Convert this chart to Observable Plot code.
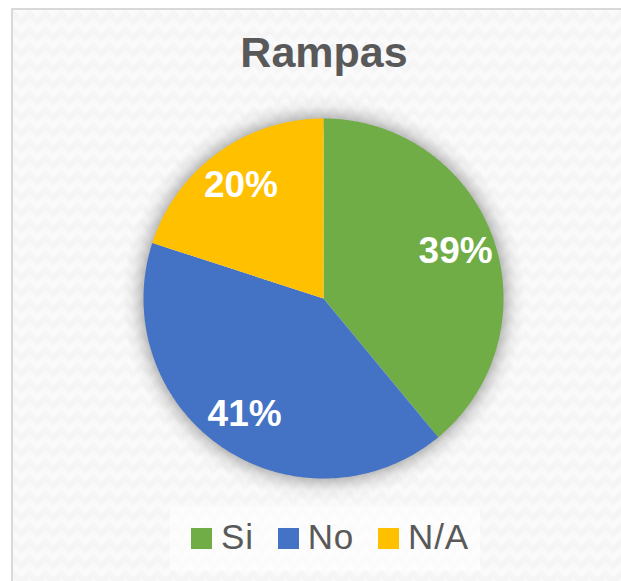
<!DOCTYPE html>
<html>
<head>
<meta charset="utf-8">
<script src="https://cdn.jsdelivr.net/npm/d3@7"></script>
<script src="https://cdn.jsdelivr.net/npm/@observablehq/plot@0.6"></script>
<style>
  html, body { margin: 0; padding: 0; width: 621px; height: 581px; overflow: hidden; background: #ffffff; font-family: "Liberation Sans", Arial, sans-serif; }
  #frame {
    position: absolute; left: 11px; top: 8px; width: 700px; height: 700px;
    border: 2px solid #d9d9d9; box-sizing: border-box;
    background-color: #f5f5f5;
    background-image:
      linear-gradient(135deg, #fafafa 25%, transparent 25%),
      linear-gradient(225deg, #fafafa 25%, transparent 25%),
      linear-gradient(315deg, #fafafa 25%, transparent 25%),
      linear-gradient(45deg, #fafafa 25%, transparent 25%);
    background-position: -8px 0, -8px 0, 0 0, 0 0;
    background-size: 16px 16px;
  }
  #title {
    position: absolute; left: 0; top: 31px; width: 648px; text-align: center;
    font-size: 43px; line-height: 43px; font-weight: bold; color: #595959;
  }
  #chart { position: absolute; left: 122.5px; top: 97.5px; }
  #legendbox { position: absolute; left: 170px; top: 507px; width: 310px; height: 63px; background: rgba(255,255,255,0.6); }
  #legend {
    position: absolute; left: 191px; top: 519px; display: flex; align-items: baseline;
    font-size: 35px; line-height: 35px; letter-spacing: 0.8px; color: #595959; white-space: nowrap;
  }
  #legend .item { display: flex; align-items: baseline; margin-right: 24px; }
  #legend .sw { width: 21px; height: 21px; margin-right: 9px; display: inline-block; }
</style>
</head>
<body>
<div id="frame"></div>
<div id="title"></div>
<div id="chart"></div>
<div id="legendbox"></div>
<div id="legend"></div>
<script>
const titleText = "Rampas";
const categories = ["Si", "No", "N/A"];
const values = [39, 41, 20];
const labels = ["39%", "41%", "20%"];
const colors = ["#70AD47", "#4472C4", "#FFC000"];

document.getElementById("title").textContent = titleText;

const arcs = d3.pie().sort(null).startAngle(0).endAngle(2 * Math.PI)(values);
const polyPoints = [];
const labelPoints = [];
arcs.forEach((a, i) => {
  const key = categories[i];
  polyPoints.push({key, x: 0, y: 0});
  const n = Math.max(2, Math.ceil((a.endAngle - a.startAngle) / (Math.PI / 360)));
  for (let k = 0; k <= n; k++) {
    const t = a.startAngle + (a.endAngle - a.startAngle) * k / n;
    polyPoints.push({key, x: Math.sin(t), y: Math.cos(t)});
  }
  polyPoints.push({key, x: 0, y: 0});
  const mid = (a.startAngle + a.endAngle) / 2;
  labelPoints.push({key, label: labels[i], x: 0.78 * Math.sin(mid), y: 0.78 * Math.cos(mid)});
});

// soft shadow halo: a slightly larger disc filled with a radial gradient
const shadowScale = 1.12;
const shadowPoints = d3.range(0, 721).map(k => {
  const t = k * Math.PI / 360;
  return {x: shadowScale * Math.sin(t), y: shadowScale * Math.cos(t)};
});

const chart = Plot.plot({
  width: 400,
  height: 400,
  margin: 20,
  x: {domain: [-1, 1], axis: null},
  y: {domain: [-1, 1], axis: null},
  color: {domain: categories, range: colors},
  style: {background: "transparent", overflow: "visible"},
  marks: [
    Plot.line(shadowPoints, {x: "x", y: "y", fill: "url(#pieShadow)", stroke: "none", curve: "linear"}),
    Plot.line(polyPoints, {x: "x", y: "y", z: "key", fill: "key", stroke: "none", curve: "linear"}),
    Plot.text(labelPoints, {x: "x", y: "y", text: "label", fill: "white", fontSize: 37, fontWeight: "bold", fontFamily: "Liberation Sans, Arial, sans-serif"})
  ]
});
const ns = "http://www.w3.org/2000/svg";
const defs = document.createElementNS(ns, "defs");
const grad = document.createElementNS(ns, "radialGradient");
grad.setAttribute("id", "pieShadow");
const edge = 1 / shadowScale;
[[0, 0.0], [edge - 0.08, 0.0], [edge - 0.02, 0.28], [edge, 0.24], [edge + 0.03, 0.13], [edge + 0.06, 0.05], [1, 0.0]].forEach(([o, op]) => {
  const s = document.createElementNS(ns, "stop");
  s.setAttribute("offset", o);
  s.setAttribute("stop-color", "#000");
  s.setAttribute("stop-opacity", op);
  grad.appendChild(s);
});
defs.appendChild(grad);
chart.insertBefore(defs, chart.firstChild);
document.getElementById("chart").appendChild(chart);

const legend = document.getElementById("legend");
categories.forEach((c, i) => {
  const item = document.createElement("div");
  item.className = "item";
  const sw = document.createElement("span");
  sw.className = "sw";
  sw.style.background = colors[i];
  const tx = document.createElement("span");
  tx.textContent = c;
  item.appendChild(sw);
  item.appendChild(tx);
  legend.appendChild(item);
});
</script>
</body>
</html>
